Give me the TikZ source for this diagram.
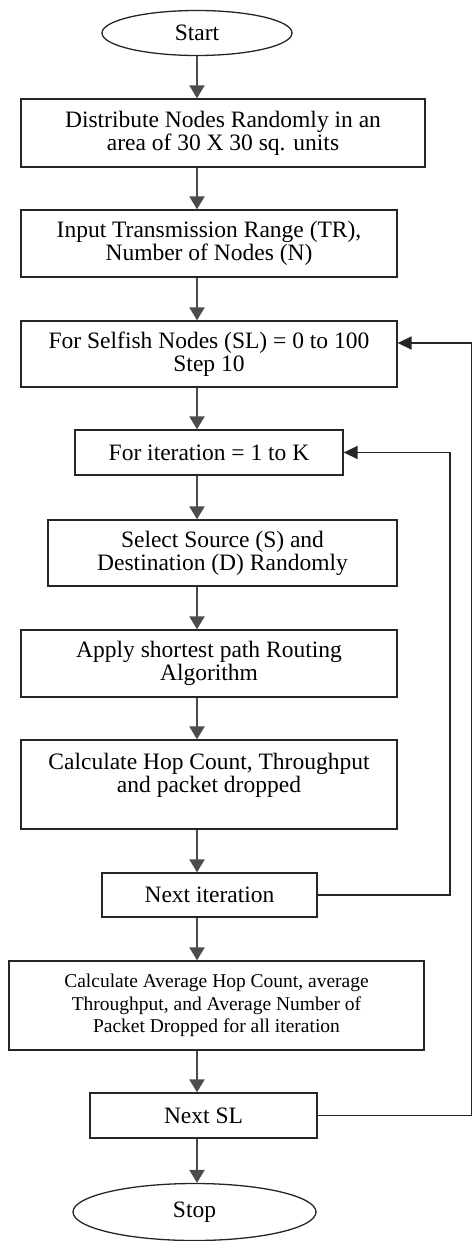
\documentclass[tikz,border=0pt]{standalone}
\usepackage{fontspec}
\setmainfont{Liberation Serif}
\usetikzlibrary{arrows.meta,shapes.geometric}

\begin{document}
\begin{tikzpicture}[x=1pt, y=-1pt,
        box/.style={draw=black!85, line width=1.3pt, align=center, inner sep=0pt, font=\fontsize{23.5}{23}\selectfont},
        term/.style={box, ellipse},
        flow/.style={draw=black!70, line width=2.2pt, -{Triangle[width=15pt,length=13pt]}},
        back/.style={draw=black!85, line width=1.5pt, -{Triangle[width=13pt,length=14pt]}}]
        \useasboundingbox (0,0) rectangle (473,1241);

        \node[term, minimum width=190pt, minimum height=45pt] (start) at (197,33) {Start};
        \node[box, minimum width=404pt, minimum height=68pt] (dist) at (223,133) {Distribute Nodes Randomly in an\\area of 30 X 30 sq. units};
        \node[box, minimum width=376pt, minimum height=67pt] (input) at (209,243.5) {Input Transmission Range (TR),\\Number of Nodes (N)};
        \node[box, minimum width=376pt, minimum height=66pt] (selfish) at (209,354) {For Selfish Nodes (SL) = 0 to 100\\Step 10};
        \node[box, minimum width=268pt, minimum height=45pt] (iter) at (209,452.5) {For iteration = 1 to K};
        \node[box, minimum width=349pt, minimum height=66pt] (select) at (222.5,553) {Select Source (S) and\\Destination (D) Randomly};
        \node[box, minimum width=376pt, minimum height=67pt] (apply) at (209,663.5) {Apply shortest path Routing\\Algorithm};
        \node[box, minimum width=376pt, minimum height=89pt] (calc) at (209,784.5) {Calculate Hop Count, Throughput\\and packet dropped\\\mbox{}};
        \node[box, minimum width=215pt, minimum height=44pt] (nextit) at (209.5,895) {Next iteration};
        \node[box, minimum width=415pt, minimum height=89pt, font=\fontsize{19.5}{22.5}\selectfont] (avg) at (216.5,1005.5) {Calculate Average Hop Count, average\\Throughput, and Average Number of\\Packet Dropped for all iteration};
        \node[box, minimum width=227pt, minimum height=45pt] (nextsl) at (203.5,1115.5) {Next SL};
        \node[term, minimum width=243pt, minimum height=57pt] (stop) at (194.5,1212) {Stop};

        \coordinate (inner) at (450,0);
        \coordinate (outer) at (471.5,0);

        % main column
        \draw[flow] (start.south) -- (start.south |- dist.north);
        \draw[flow] (dist.south -| start) -- (input.north -| start);
        \draw[flow] (input.south -| start) -- (selfish.north -| start);
        \draw[flow] (selfish.south -| start) -- (iter.north -| start);
        \draw[flow] (iter.south -| start) -- (select.north -| start);
        \draw[flow] (select.south -| start) -- (apply.north -| start);
        \draw[flow] (apply.south -| start) -- (calc.north -| start);
        \draw[flow] (calc.south -| start) -- (nextit.north -| start);
        \draw[flow] (nextit.south -| start) -- (avg.north -| start);
        \draw[flow] (avg.south -| start) -- (nextsl.north -| start);
        \draw[flow] (nextsl.south -| start) -- (stop.north -| start);

        % loops back
        \draw[back] (nextit.east) -- (nextit.east -| inner) -- (iter.east -| inner) -- (iter.east);
        \draw[back] (nextsl.east) -- (nextsl.east -| outer) -- ([yshift=11pt]selfish.east -| outer) -- ([yshift=11pt]selfish.east);
    \end{tikzpicture}
\end{document}
